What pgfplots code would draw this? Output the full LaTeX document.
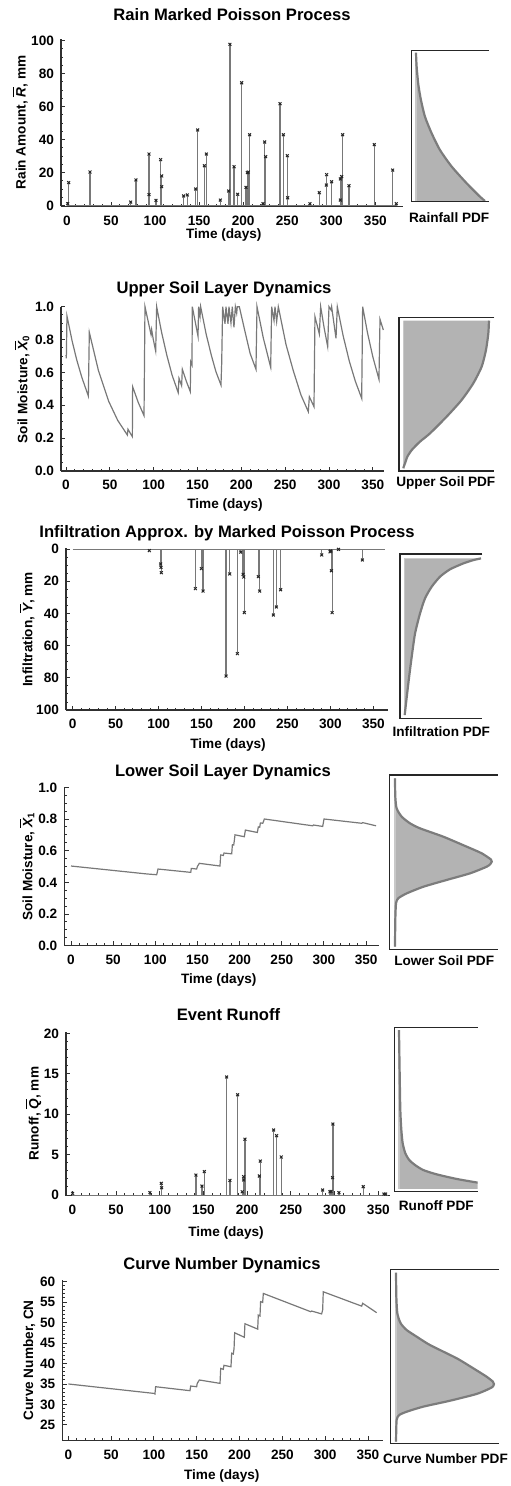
\documentclass[border=0pt]{standalone}
\usepackage{fontspec}
\setmainfont{Liberation Sans}
\usepackage{pgfplots}
\usepackage{pgfplotstable}
\pgfplotsset{compat=1.18}

\definecolor{lngray}{HTML}{787878}
\definecolor{pdffill}{HTML}{B3B3B3}
\definecolor{pdfline}{HTML}{7C7C7C}
\definecolor{pdfedge}{HTML}{C8C8C8}
\definecolor{axgray}{HTML}{303030}

\newcommand{\tkfont}{\fontsize{6.8}{8}\selectfont\bfseries}
\newcommand{\ttfont}{\fontsize{8.3}{10}\selectfont\bfseries}
\newcommand{\sub}[1]{\mbox{\fontsize{4.8}{5}\selectfont #1}}

% ---- time series ----
\pgfplotstableread{
d v
0 0.706
0.4 0.686
1.1 0.943
7 0.791
12.2 0.677
18 0.571
25.5 0.456
26.6 0.844
37 0.611
48.7 0.424
59 0.308
70 0.219
70.7 0.254
75.7 0.209
76 0.513
82.5 0.416
89 0.337
90.1 1.0
97 0.83
97.7 0.86
99.6 0.80
102.3 0.73
103.4 1.0
109 0.845
115 0.705
121 0.584
128 0.477
128.9 0.564
131.9 0.519
132.7 0.619
137 0.55
141.8 0.483
142.2 0.665
143.7 0.645
144.1 1.0
150.6 0.82
151.3 1.0
152.9 0.94
153.6 1.0
160 0.83
166 0.70
171 0.605
176.8 0.523
177.6 0.655
178.7 1.0
181.4 0.895
182.5 1.0
184.8 0.895
185.9 1.0
188.2 0.90
189.7 1.0
191.6 0.874
193.2 1.0
194.7 0.96
195.4 1.0
197.7 1.0
204 0.853
210 0.716
216.7 0.619
217.9 1.0
225 0.811
233.5 0.631
234.6 1.0
237.3 0.915
238.4 1.0
240.3 0.909
242.2 1.0
251 0.769
259.3 0.61
268 0.463
276.4 0.361
277.6 0.452
282.9 0.391
284 0.939
289 0.834
290.5 1.0
294.5 0.87
298.5 0.757
300 1.0
302.3 0.98
303 1.0
308 0.807
309.5 1.0
316 0.826
323.2 0.668
330 0.547
337.3 0.442
338.4 1.0
344 0.839
350 0.695
357 0.558
358.2 0.923
362 0.858
}\uppersoil

\pgfplotstableread{
d v
0 0.503
89.8 0.453
101.6 0.448
103.2 0.484
142 0.463
142.7 0.488
149 0.484
149.9 0.50
152.2 0.52
176.7 0.503
177.5 0.573
180.7 0.570
181.5 0.585
190.6 0.58
191.4 0.637
193 0.636
193.8 0.668
194.5 0.70
205.6 0.688
206.8 0.73
221 0.715
222.2 0.75
223.8 0.748
224.6 0.775
227.4 0.773
228.2 0.783
229.3 0.80
286.7 0.757
287.5 0.762
298.5 0.753
300.1 0.80
344.8 0.773
346 0.777
361.8 0.757
}\lowersoil

\pgfplotstableread{
d v
0 35.0
100.0 32.7
101.2 32.55
102.0 34.33
142.1 33.36
142.9 34.5
149.9 34.33
150.6 35.15
153.1 35.97
177.2 35.15
178.0 38.8
181.0 38.57
181.8 39.55
190.0 39.2
190.8 42.5
192.7 42.3
193.6 43.7
194.3 47.5
205.6 46.4
206.3 49.7
221.2 48.4
221.9 51.8
223.9 51.6
224.6 55.1
227.0 54.9
227.8 57.1
283.0 52.65
284.3 52.8
295.9 52.1
297.1 53.1
297.8 57.5
342.7 54.0
343.8 54.7
360.2 52.4
}\curvenum

% ---- side PDFs (x = relative density, y = relative value) ----
\pgfplotstableread{
x y
0 1.005
0.009 0.91
0.032 0.79
0.068 0.684
0.123 0.571
0.215 0.458
0.329 0.345
0.489 0.233
0.694 0.12
0.877 0.029
0.945 0
}\rainpdf

\pgfplotstableread{
x y
0 0
0.004 0.011
0.018 0.034
0.044 0.079
0.092 0.124
0.183 0.181
0.293 0.237
0.476 0.35
0.641 0.463
0.769 0.576
0.861 0.689
0.908 0.801
0.934 0.914
0.941 1.0
}\upperpdf

\pgfplotstableread{
x y
0.983 0
0.885 0.011
0.756 0.032
0.585 0.07
0.457 0.117
0.35 0.181
0.265 0.255
0.201 0.351
0.137 0.479
0.094 0.628
0.056 0.777
0.026 0.904
0.004 1.0
}\infilpdf

\pgfplotstableread{
x y
0 0.981
0.003 0.876
0.016 0.809
0.065 0.761
0.146 0.723
0.244 0.694
0.471 0.646
0.698 0.589
0.844 0.551
0.935 0.515
0.942 0.503
0.93 0.49
0.893 0.474
0.731 0.436
0.503 0.398
0.276 0.359
0.114 0.321
0.032 0.293
0.01 0.264
0.003 0.168
0 0.015
}\lowerpdf

\pgfplotstableread{
x y
0 1.0
0.008 0.748
0.017 0.497
0.03 0.371
0.047 0.287
0.081 0.224
0.131 0.182
0.203 0.151
0.309 0.119
0.479 0.092
0.733 0.063
1.0 0.04
1.06 0.036
}\runoffpdf

\pgfplotstableread{
x y
0 0.981
0.003 0.843
0.013 0.747
0.045 0.69
0.104 0.651
0.201 0.613
0.33 0.565
0.589 0.489
0.751 0.431
0.88 0.383
0.94 0.355
0.951 0.341
0.943 0.328
0.913 0.316
0.783 0.284
0.524 0.245
0.265 0.211
0.104 0.182
0.032 0.163
0.006 0.134
0 0.01
}\cnpdf

\pgfplotsset{
  mainax/.style={
    scale only axis, anchor=south west,
    axis x line*=bottom, axis y line*=left,
    x axis line style={-}, y axis line style={-},
    axis line style={axgray, line width=0.55pt},
    tick align=inside,
    major tick length=2.2pt, minor tick length=1.2pt,
    every tick/.style={axgray, line width=0.45pt},
    ticklabel style={font=\tkfont},
    xticklabel style={yshift=-1pt},
    /pgf/number format/assume math mode=true,
    xtick={0,50,...,350}, minor x tick num=4,
    minor y tick num=3,
  },
  pdfax/.style={scale only axis, anchor=south west, hide axis, clip mode=individual},
  stems/.style={ycomb, lngray, line width=0.6pt, mark=x, mark size=1pt,
    mark options={black!85, line width=0.5pt}},
  series/.style={lngray, line width=0.6pt},
  base/.style={lngray, line width=0.5pt},
  pdffillst/.style={fill=pdffill, draw=none, smooth, tension=0.4},
  pdflinest/.style={pdfline, line width=1.1pt, smooth, tension=0.4},
  pdfedgest/.style={pdfedge, line width=0.8pt},
}
\newcommand{\pdfframe}{\draw[black!85, line width=0.7pt] (rel axis cs:1,1) -- (rel axis cs:0,1) -- (rel axis cs:0,0) -- (rel axis cs:1,0);}

\begin{document}
\begin{tikzpicture}
\path[use as bounding box] (0,0) rectangle (255pt,-743pt);

% ===== 1 rain =====
\begin{axis}[mainax, at={(30.5pt,-103.25pt)}, width=171pt, height=83.73pt,
  xmin=-6.8, xmax=381.4, ymin=-0.5, ymax=101, ytick={0,20,...,100}]
\addplot[base] coordinates {(0,0) (374,0)};
\addplot[stems] coordinates {
(0.8,1.2) (1.9,14) (26.1,20.4) (72.3,2.2) (78.3,15.6) (93.1,31.3) (93.1,6.7)
(101,3.2) (106.3,27.9) (107.5,18) (107.5,11.5) (132.4,5.9) (136.6,6.5)
(146,10.1) (148.3,45.9) (155.9,24.2) (158.2,31.3) (174,3.4) (183.5,8.9)
(185,97.8) (189.6,23.6) (193.7,6.9) (198.3,74.5) (203.2,11.1) (204.7,20)
(205.8,20.4) (207.3,43) (222.5,1.2) (224.4,38.6) (225.5,29.7) (241.8,61.8)
(245.6,43) (250.1,30.3) (250.5,4.8) (275.8,1.2) (286.4,7.9) (294.4,12.5)
(294.7,18.8) (300.4,14.5) (310.3,16.2) (310.3,3.4) (311.8,17.6) (312.9,43)
(320.1,12.1) (348.8,37) (369.7,21.6) (373.8,1.2)};
\end{axis}
\begin{axis}[pdfax, at={(205.83pt,-100.83pt)}, width=38.67pt, height=75.5pt,
  xmin=-0.059, xmax=1, ymin=-0.0045, ymax=1.018]
\addplot[pdffillst] table[x=x,y=y] {\rainpdf} -- (axis cs:0,0) -- cycle;
\addplot[pdfedgest] coordinates {(0,0) (0,1.005)};
\addplot[pdflinest] table[x=x,y=y] {\rainpdf};
\pdfframe
\end{axis}

% ===== 2 upper soil =====
\begin{axis}[mainax, at={(30.5pt,-235.5pt)}, width=161.6pt, height=82.17pt,
  xmin=-5.7, xmax=363, ymin=0, ymax=1, ytick={0,0.2,...,1.0}, clip=false,
  yticklabel style={/pgf/number format/.cd, fixed, fixed zerofill, precision=1}]
\addplot[series] table[x=d,y=v] {\uppersoil};
\end{axis}
\begin{axis}[pdfax, at={(199.5pt,-235.5pt)}, width=47.67pt, height=76.67pt,
  xmin=-0.048, xmax=1, ymin=-0.018, ymax=1.02]
\addplot[pdffillst] table[x=x,y=y] {\upperpdf} -- (axis cs:0,1) -- cycle;
\addplot[pdfedgest] coordinates {(0,0) (0,1)};
\addplot[pdflinest] table[x=x,y=y] {\upperpdf};
\pdfframe
\end{axis}

% ===== 3 infiltration =====
\begin{axis}[mainax, y dir=reverse,
  at={(33pt,-355pt)}, width=161.2pt, height=80.9pt,
  xmin=-7.8, xmax=367.5, ymin=-0.5, ymax=100, ytick={0,20,...,100}]
\addplot[base] coordinates {(0,0) (364,0)};
\addplot[stems] coordinates {
(89.2,1) (102.4,9.3) (102.8,11.4) (103.2,14.7) (142.8,24.6) (149.8,12.2)
(151.7,26.1) (178.5,78.9) (182.8,15.5) (191.7,65) (195.6,1.9) (198.3,15.7)
(199.1,17.4) (199.8,39.5) (216.1,17.2) (217.7,26.1) (233.6,41) (237.1,36)
(242.1,25.3) (289.9,3.7) (299.6,1.7) (300.4,1.2) (301.2,13.5) (302,39.5)
(309.4,0.2) (337.2,6.8)};
\end{axis}
\begin{axis}[pdfax, y dir=reverse, at={(200pt,-359.17pt)}, width=41.17pt, height=82.17pt,
  xmin=-0.056, xmax=1, ymin=-0.028, ymax=1.021]
\addplot[pdffillst] table[x=x,y=y] {\infilpdf} -- (axis cs:0,1) -- (axis cs:0,0) -- cycle;
\addplot[pdfedgest] coordinates {(0,0) (0,1)};
\addplot[pdflinest] table[x=x,y=y] {\infilpdf};
\pdfframe
\end{axis}

% ===== 4 lower soil =====
\begin{axis}[mainax, at={(32.17pt,-472.83pt)}, width=157.2pt, height=79.17pt,
  xmin=-7.9, xmax=365, ymin=0, ymax=1, ytick={0,0.2,...,1.0},
  yticklabel style={/pgf/number format/.cd, fixed, fixed zerofill, precision=1}]
\addplot[series] table[x=d,y=v] {\lowersoil};
\end{axis}
\begin{axis}[pdfax, at={(194.67pt,-474.67pt)}, width=54.17pt, height=87.17pt,
  xmin=-0.055, xmax=1, ymin=0, ymax=1]
\addplot[pdffillst] table[x=x,y=y] {\lowerpdf} -- cycle;
\addplot[pdfedgest] coordinates {(0,0.015) (0,0.981)};
\addplot[pdflinest] table[x=x,y=y] {\lowerpdf};
\pdfframe
\end{axis}

% ===== 5 runoff =====
\begin{axis}[mainax, at={(33pt,-597.9pt)}, width=162pt, height=82.05pt,
  xmin=-7.2, xmax=363.4, ymin=-0.1, ymax=20.2, ytick={0,5,...,20}, minor y tick num=4]
\addplot[base] coordinates {(0,0) (361,0)};
\addplot[stems] coordinates {
(0.4,0.2) (88.8,0.3) (101.8,1.44) (102.2,0.9) (141.4,2.47) (148.3,1.1)
(151,2.9) (176.5,14.6) (180.3,1.8) (189.1,12.4) (194.4,0.4) (196,2.27)
(196,1.86) (197.5,6.9) (213.9,2.35) (215,4.2) (230.3,8.04) (233.7,7.34)
(239,4.7) (286.3,0.62) (294.7,0.4) (295.9,0.45) (297.7,2.14) (298.1,8.78)
(305,0.3) (332.8,1.03) (356.5,0.12) (358.4,0.12)};
\end{axis}
\begin{axis}[pdfax, at={(197.17pt,-595.83pt)}, width=41.67pt, height=82pt,
  xmin=-0.059, xmax=1, ymin=-0.017, ymax=1.015]
\addplot[pdffillst] table[x=x,y=y] {\runoffpdf} -- (axis cs:1.06,0) -- (axis cs:0,0) -- cycle;
\addplot[pdfedgest] coordinates {(0,0) (0,1)};
\addplot[pdflinest] table[x=x,y=y] {\runoffpdf};
\pdfframe
\end{axis}

% ===== 6 curve number =====
\begin{axis}[mainax, at={(31.17pt,-720.35pt)}, width=160.17pt, height=80.4pt,
  xmin=-6.98, xmax=367.2, ymin=21.15, ymax=60.4, ytick={25,30,...,60}, minor y tick num=4]
\addplot[series] table[x=d,y=v] {\curvenum};
\end{axis}
\begin{axis}[pdfax, at={(195.33pt,-721.67pt)}, width=54.17pt, height=87pt,
  xmin=-0.052, xmax=1, ymin=0, ymax=1]
\addplot[pdffillst] table[x=x,y=y] {\cnpdf} -- cycle;
\addplot[pdfedgest] coordinates {(0,0.01) (0,0.981)};
\addplot[pdflinest] table[x=x,y=y] {\cnpdf};
\pdfframe
\end{axis}

% ===== titles and labels =====
\begin{scope}[x=0.5pt, y=-0.5pt]
\node[anchor=base, font=\ttfont] at (232,20.7) {Rain Marked Poisson Process};
\node[anchor=base, font=\ttfont] at (224,294) {Upper Soil Layer Dynamics};
\node[anchor=base, font=\ttfont] at (227,537.3) {Infiltration Approx. by Marked Poisson Process};
\node[anchor=base, font=\ttfont] at (223,776) {Lower Soil Layer Dynamics};
\node[anchor=base, font=\ttfont] at (228.5,1020.7) {Event Runoff};
\node[anchor=base, font=\ttfont] at (222,1269) {Curve Number Dynamics};

\node[anchor=base, font=\tkfont] at (223.8,239) {Time (days)};
\node[anchor=base, font=\tkfont] at (225,508.3) {Time (days)};
\node[anchor=base, font=\tkfont] at (228,748.3) {Time (days)};
\node[anchor=base, font=\tkfont] at (218.8,983.3) {Time (days)};
\node[anchor=base, font=\tkfont] at (226,1236) {Time (days)};
\node[anchor=base, font=\tkfont] at (221.8,1479.3) {Time (days)};

\node[anchor=base, font=\tkfont] at (449.2,222.7) {Rainfall PDF};
\node[anchor=base, font=\tkfont] at (445.8,486) {Upper Soil PDF};
\node[anchor=base, font=\tkfont] at (441.3,736.7) {Infiltration PDF};
\node[anchor=base, font=\tkfont] at (444.2,965) {Lower Soil PDF};
\node[anchor=base, font=\tkfont] at (436.3,1210.7) {Runoff PDF};
\node[anchor=base, font=\tkfont] at (445.5,1463.3) {Curve Number PDF};

\node[rotate=90, font=\tkfont] at (20,122.5) {Rain Amount, $\overline{\mbox{\itshape R}}$, mm};
\node[rotate=90, font=\tkfont] at (21.7,389) {Soil Moisture, $\overline{\mbox{\itshape X}}_{\sub{0}}$};
\node[rotate=90, font=\tkfont] at (26.7,629.5) {Infiltration, $\overline{\mbox{\itshape Y}}$, mm};
\node[rotate=90, font=\tkfont] at (26.7,866.5) {Soil Moisture, $\overline{\mbox{\itshape X}}_{\sub{1}}$};
\node[rotate=90, font=\tkfont] at (33.3,1113.7) {Runoff, $\overline{\mbox{\itshape Q}}$, mm};
\node[rotate=90, font=\tkfont] at (29.3,1360.3) {Curve Number, CN};
\end{scope}
\end{tikzpicture}
\end{document}
